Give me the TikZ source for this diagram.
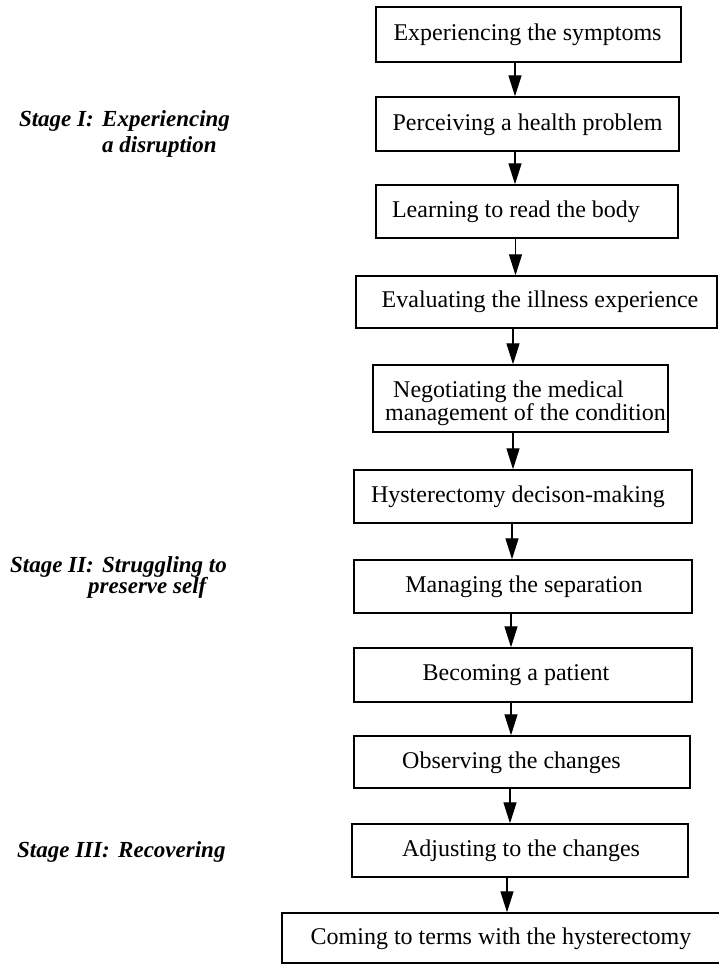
\documentclass[tikz,border=0pt]{standalone}
\usepackage{fontspec}
\setmainfont{Liberation Serif}
\usetikzlibrary{arrows.meta}
\begin{document}
\begin{tikzpicture}[x=1pt,y=-1pt,
  box/.style={draw, line width=1.4pt, inner sep=0pt},
  txt/.style={font=\fontsize{24}{26}\selectfont, inner sep=0pt, anchor=center},
  stg/.style={font=\fontsize{23}{26}\selectfont\bfseries\itshape, inner sep=0pt, anchor=base west},
  stgh/.style={stg, anchor=base east},
  arr/.style={line width=1.3pt, -{Triangle[length=21pt,width=13pt]}}]
\useasboundingbox (0,0) rectangle (719,966);
% boxes
\node[box, minimum width=305pt, minimum height=55pt] (b1) at (528.5,34.5) {};
\node[box, minimum width=303pt, minimum height=54pt] (b2) at (527.5,124) {};
\node[box, minimum width=302pt, minimum height=53pt] (b3) at (527,211.5) {};
\node[box, minimum width=361pt, minimum height=52pt] (b4) at (536.5,302) {};
\node[box, minimum width=295pt, minimum height=67pt] (b5) at (520.5,398.5) {};
\node[box, minimum width=338pt, minimum height=53pt] (b6) at (523,496.5) {};
\node[box, minimum width=338pt, minimum height=53pt] (b7) at (523,586.5) {};
\node[box, minimum width=338pt, minimum height=54pt] (b8) at (523,675) {};
\node[box, minimum width=336pt, minimum height=52pt] (b9) at (522,762) {};
\node[box, minimum width=336pt, minimum height=53pt] (b10) at (520,850.5) {};
\node[box, minimum width=442pt, minimum height=50pt] (b11) at (503,938) {};
% texts
\node[txt] (t1) at (527.5,35) {Experiencing the symptoms};
\node[txt] (t2) at (527.5,124.5) {Perceiving a health problem};
\node[txt] (t3) at (516,212) {Learning to read the body};
\node[txt] (t4) at (540,302) {Evaluating the illness experience};
\node[txt, anchor=base west] (t5a) at (393,397) {Negotiating the medical};
\node[txt, anchor=base west] (t5b) at (385,420) {management of the condition};
\node[txt] (t6) at (518,497) {Hysterectomy decison-making};
\node[txt] (t7) at (524,587) {Managing the separation};
\node[txt] (t8) at (516,675.5) {Becoming a patient};
\node[txt] (t9) at (511.5,762.5) {Observing the changes};
\node[txt] (t10) at (521,851) {Adjusting to the changes};
\node[txt] (t11) at (501,938.5) {Coming to terms with the hysterectomy};
% arrow x positions
\coordinate (c1) at (515,0);
\coordinate (c2) at (515,0);
\coordinate (c3) at (515.5,0);
\coordinate (c4) at (513,0);
\coordinate (c5) at (513,0);
\coordinate (c6) at (512,0);
\coordinate (c7) at (511,0);
\coordinate (c8) at (511,0);
\coordinate (c9) at (510,0);
\coordinate (c10) at (507,0);
\draw[arr] (b1.south -| c1) -- (b2.north -| c1);
\draw[arr] (b2.south -| c2) -- (b3.north -| c2);
\draw[arr] (b3.south -| c3) -- (b4.north -| c3);
\draw[arr] (b4.south -| c4) -- (b5.north -| c4);
\draw[arr] (b5.south -| c5) -- (b6.north -| c5);
\draw[arr] (b6.south -| c6) -- (b7.north -| c6);
\draw[arr] (b7.south -| c7) -- (b8.north -| c7);
\draw[arr] (b8.south -| c8) -- (b9.north -| c8);
\draw[arr] (b9.south -| c9) -- (b10.north -| c9);
\draw[arr] (b10.south -| c10) -- (b11.north -| c10);
% stage labels
\node[stgh] (s1h) at (94,126) {Stage I:};
\node[stg] (s1a) at (102,126) {Experiencing};
\node[stg] (s1b) at (102,152) {a disruption};
\node[stgh] (s2h) at (94,572) {Stage II:};
\node[stg] (s2a) at (102,572) {Struggling to};
\node[stg] (s2b) at (88,593) {preserve self};
\node[stgh] (s3h) at (110,857) {Stage III:};
\node[stg] (s3a) at (118,857) {Recovering};
\end{tikzpicture}
\end{document}
